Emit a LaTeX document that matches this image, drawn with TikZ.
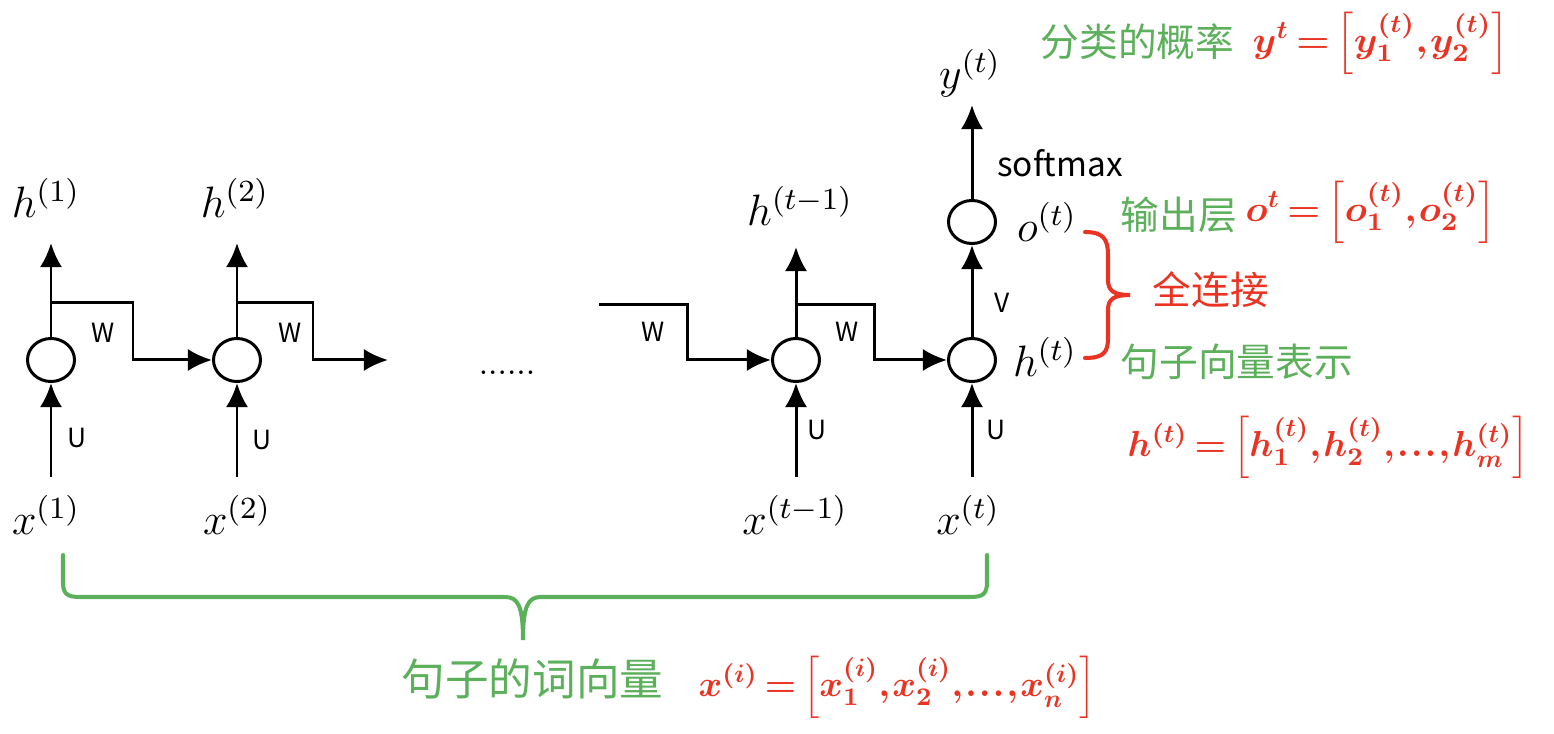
\RequirePackage{fix-cm}
\documentclass[tikz,border=0pt]{standalone}
\usepackage{amsmath}
\usepackage{graphicx}
\usepackage{fontspec}
\usetikzlibrary{shapes.geometric,arrows.meta}
\newfontfamily\cjk{Noto Sans CJK SC}
\newfontfamily\labfont{Noto Sans CJK SC}
\definecolor{mygreen}{RGB}{92,176,92}
\definecolor{myred}{RGB}{234,51,35}
\newcommand{\myform}[3]{\resizebox*{#1}{#2}{\thickmuskip=3mu\thinmuskip=1mu$#3$}}
\begin{document}
\begin{tikzpicture}[x=0.01cm,y=-0.01cm,
  cell/.style={ellipse,draw,line width=0.85pt,minimum width=0.47cm,minimum height=0.43cm,inner sep=0pt},
  arr/.style={line width=0.85pt,-{Latex[length=0.24cm,width=0.22cm]}},
  mlab/.style={inner sep=0pt,font=\fontsize{12.5}{14}\selectfont},
  wlab/.style={inner sep=0pt,font=\labfont\fontsize{7.5}{9}\selectfont},
  gtext/.style={inner sep=0pt,anchor=west,text=mygreen,font=\cjk\fontsize{11}{13}\selectfont},
  rtext/.style={inner sep=0pt,anchor=west,text=myred,font=\cjk\fontsize{11}{13}\selectfont},
  rform/.style={inner sep=0pt,anchor=west,text=myred,font=\fontsize{12.5}{14}\selectfont\boldmath},
  gbrace/.style={draw=mygreen,line width=1.15pt,line cap=round},
  rbrace/.style={draw=myred,line width=1.15pt,line cap=round}]
\useasboundingbox (0,0) rectangle (1554,734);

% cells
\node[cell] (c1) at (51,360) {};
\node[cell] (c2) at (237,360) {};
\node[cell] (c3) at (796,360) {};
\node[cell] (c4) at (972,360) {};
\node[cell] (c5) at (972,222) {};

% coordinates
\coordinate (in1) at (51,477);
\coordinate (in2) at (237,477);
\coordinate (in3) at (796,477);
\coordinate (in4) at (972,477);
\coordinate (out1) at (51,243);
\coordinate (out2) at (237,243);
\coordinate (out3) at (796,247);
\coordinate (out5) at (972,105);
\coordinate (b1) at (51,303);
\coordinate (k1) at (133,360);
\coordinate (b2) at (237,303);
\coordinate (k2) at (313,360);
\coordinate (e2) at (388,360);
\coordinate (s3) at (599,305);
\coordinate (k3) at (687,360);
\coordinate (b3) at (796,305);
\coordinate (k4) at (874,360);

% connectors
\draw[arr] (in1) -- (c1);
\draw[arr] (in2) -- (c2);
\draw[arr] (in3) -- (c3);
\draw[arr] (in4) -- (c4);
\draw[arr] (c1) -- (out1);
\draw[arr] (c2) -- (out2);
\draw[arr] (c3) -- (out3);
\draw[arr] (c4) -- (c5);
\draw[arr] (c5) -- (out5);
\draw[arr] (b1) -| (k1) -- (c2);
\draw[arr] (b2) -| (k2) -- (e2);
\draw[arr] (s3) -| (k3) -- (c3);
\draw[arr] (b3) -| (k4) -- (c4);

% labels
\node[mlab] (h1) at (46,198) {$h^{(1)}$};
\node[mlab] (h2) at (235,198) {$h^{(2)}$};
\node[mlab] (ht1) at (800,206) {$h^{(t-1)}$};
\node[mlab] (x1) at (46,515) {$x^{(1)}$};
\node[mlab] (x2) at (237,515) {$x^{(2)}$};
\node[mlab] (xt1) at (795,515) {$x^{(t-1)}$};
\node[mlab] (xt) at (968,515) {$x^{(t)}$};
\node[mlab] (yt) at (970,73) {$y^{(t)}$};
\node[mlab] (ot) at (1047,222) {$o^{(t)}$};
\node[mlab] (htl) at (1045,357) {$h^{(t)}$};

\node[wlab] (w1) at (103,333) {W};
\node[wlab] (w2) at (290,333) {W};
\node[wlab] (w3) at (653,332) {W};
\node[wlab] (w4) at (847,332) {W};
\node[wlab] (u1) at (77,438) {U};
\node[wlab] (u2) at (262,440) {U};
\node[wlab] (u3) at (817,430) {U};
\node[wlab] (u4) at (996,430) {U};
\node[wlab] (v1) at (1002,303) {V};
\node[wlab,font=\labfont\fontsize{9.5}{11}\selectfont] (sm) at (1060,163) {softmax};
\node[inner sep=0pt,anchor=base,font=\fontsize{9.6}{11}\selectfont] (dots) at (507,375) {......};

% right side texts
\node[gtext] (t1) at (1040,42) {分类的概率};
\node[rform] (f1) at (1252,43) {\myform{2.56cm}{0.65cm}{y^{t}=\Bigl[y_1^{(t)},y_2^{(t)}\Bigr]}};
\node[gtext] (t2) at (1120,215) {输出层};
\node[rform] (f2) at (1245,212) {\myform{2.50cm}{0.65cm}{o^{t}=\Bigl[o_1^{(t)},o_2^{(t)}\Bigr]}};
\node[rtext] (t3) at (1152,290) {全连接};
\node[gtext] (t4) at (1120,362) {句子向量表示};
\node[rform] (f3) at (1127,447) {\myform{4.01cm}{0.65cm}{h^{(t)}=\Bigl[h_1^{(t)},h_2^{(t)},\ldotp\ldotp\ldotp,h_m^{(t)}\Bigr]}};
\node[gtext,font=\cjk\fontsize{12.4}{14}\selectfont] (t5) at (401,679) {句子的词向量};
\node[rform] (f4) at (698,687) {\myform{3.97cm}{0.65cm}{x^{(i)}=\Bigl[x_1^{(i)},x_2^{(i)},\ldotp\ldotp\ldotp,x_n^{(i)}\Bigr]}};

% red brace
\draw[rbrace] (1085,232) .. controls (1104,232) and (1108,240) .. (1108,255)
  -- (1108,280) .. controls (1108,291) and (1114,295) .. (1130,295)
  .. controls (1114,295) and (1108,299) .. (1108,310)
  -- (1108,338) .. controls (1108,352) and (1104,358) .. (1085,358);

% green brace
\draw[gbrace] (63,555) -- (63,582) .. controls (63,594) and (67,597) .. (80,597)
  -- (505,597) .. controls (518,597) and (523,606) .. (523,640)
  .. controls (523,606) and (528,597) .. (541,597)
  -- (970,597) .. controls (983,597) and (987,594) .. (987,582) -- (987,555);
\end{tikzpicture}
\end{document}
